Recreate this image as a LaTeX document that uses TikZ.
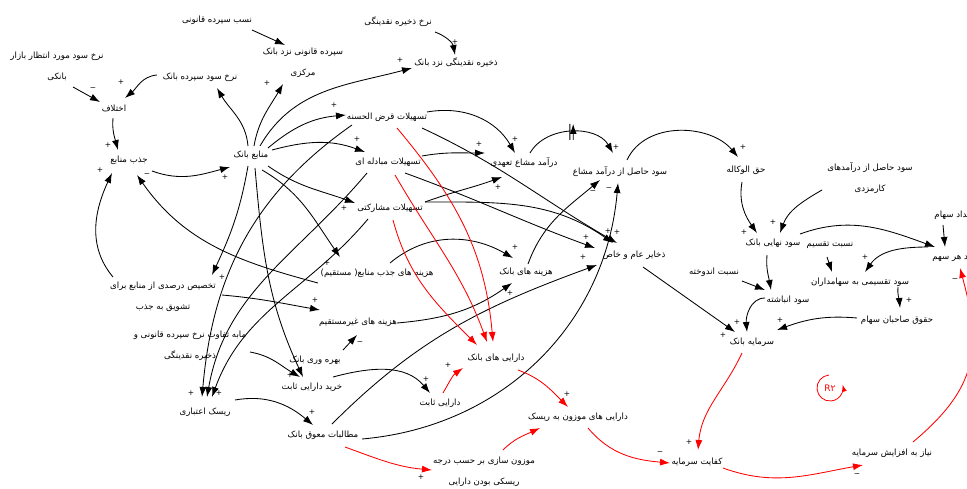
\documentclass[tikz,border=0pt]{standalone}
\usepackage{fontspec}
\usetikzlibrary{arrows.meta,calc,decorations.markings}
\TeXXeTstate=1
\newfontfamily\fafont[Script=Arabic]{DejaVu Sans}
\newfontfamily\sgfont{DejaVu Sans}
\newcommand\fa[1]{\beginR #1\endR}

\begin{document}
\begin{tikzpicture}[x=1pt,y=1pt,
  lbl/.style={font=\fafont\fontsize{8.6}{10}\selectfont, inner sep=1pt, align=center},
  lbltwo/.style={lbl, font=\fafont\fontsize{8.6}{21}\selectfont},
  sgn/.style={font=\sgfont\fontsize{7.5}{7.5}\selectfont, inner sep=0pt},
  cl/.style={-{Latex[length=10pt,width=7pt]}, line width=0.85pt},
  rl/.style={cl, red},
  delay/.style={postaction={decorate}, decoration={markings,
     mark=at position 0.5 with {\draw[line width=0.9pt] (-1.7pt,-8pt)--(-1.7pt,8pt) (1.7pt,-8pt)--(1.7pt,8pt);}}},
]
\useasboundingbox (0,0) rectangle (967,-488);
\fill[white] (0,0) rectangle (967,-488);

% ---- variables ----
\node[lbl] (nasab) at (217,-20) {\fa{نسب سپرده قانونی}};
\node[lbltwo] (sepQ) at (303,-63) {\fa{سپرده قانونی نزد بانک}\\\fa{مرکزی}};
\node[lbl] (nerkhZ) at (398,-22) {\fa{نرخ ذخیره نقدینگی}};
\node[lbl] (zakhNaq) at (456,-63) {\fa{ذخیره نقدینگی نزد بانک}};
\node[lbltwo] (nerkhMored) at (57,-66) {\fa{نرخ سود مورد انتظار بازار}\\\fa{بانکی}};
\node[lbl] (nerkhSep) at (200,-77) {\fa{نرخ سود سپرده بانک}};
\node[lbl] (ekhtelaf) at (114,-108) {\fa{اختلاف}};
\node[lbl] (jazb) at (129,-160) {\fa{جذب منابع}};
\node[lbl] (manabe) at (251,-155) {\fa{منابع بانک}};
\node[lbl] (qarz) at (387,-117) {\fa{تسهیلات قرض الحسنه}};
\node[lbl] (mobadele) at (388,-162) {\fa{تسهیلات مبادله ای}};
\node[lbl] (mosharekati) at (390,-208) {\fa{تسهیلات مشارکتی}};
\node[lbl] (tahodi) at (524,-163) {\fa{درآمد مشاع تعهدی}};
\node[lbl] (soodHasel) at (620,-172) {\fa{سود حاصل از درآمد مشاع}};
\node[lbl] (haqol) at (746,-170) {\fa{حق الوکاله}};
\node[lbltwo] (karmozd) at (870,-178) {\fa{سود حاصل از درآمدهای}\\\fa{کارمزدی}};
\node[lbl] (nahaei) at (773,-243) {\fa{سود نهایی بانک}};
\node[lbl] (taqsimR) at (830,-245) {\fa{نسبت تقسیم}};
\node[lbl] (tedad) at (954,-215) {\fa{تعداد سهام}};
\node[lbl] (harSahm) at (956,-258) {\fa{سود هر سهم}};
\node[lbl] (taqsimi) at (860,-282) {\fa{سود تقسیمی به سهامداران}};
\node[lbl] (hoqooq) at (897,-320) {\fa{حقوق صاحبان سهام}};
\node[lbl] (anbashte) at (788,-300) {\fa{سود انباشته}};
\node[lbl] (andookhte) at (714,-272) {\fa{نسبت اندوخته}};
\node[lbl] (sarmaye) at (752,-342) {\fa{سرمایه بانک}};
\node[lbl] (kefayat) at (697,-462) {\fa{کفایت سرمایه}};
\node[lbl] (niaz) at (892,-453) {\fa{نیاز به افزایش سرمایه}};
\node[lbl] (zakhayer) at (634,-255) {\fa{ذخایر عام و خاص}};
\node[lbl] (hazBank) at (526,-272) {\fa{هزینه های بانک}};
\node[lbl] (darBank) at (496,-358) {\fa{دارایی های بانک}};
\node[lbl] (mowzoon) at (578,-417) {\fa{دارایی های موزون به ریسک}};
\node[lbltwo] (mowzSazi) at (484,-472) {\fa{موزون سازی بر حسب درجه}\\\fa{ریسکی بودن دارایی}};
\node[lbl] (sabet) at (440,-403) {\fa{دارایی ثابت}};
\node[lbl] (kharid) at (312,-387) {\fa{خرید دارایی ثابت}};
\node[lbl] (bahre) at (315,-360) {\fa{بهره وری بانک}};
\node[lbl] (gheir) at (358,-322) {\fa{هزینه های غیرمستقیم}};
\node[lbl] (hazJazb) at (377,-273) {\fa{هزینه های جذب منابع( مستقیم)}};
\node[lbl] (motaleb) at (323,-435) {\fa{مطالبات معوق بانک}};
\node[lbl] (risk) at (205,-412) {\fa{ریسک اعتباری}};
\node[lbltwo] (mabe) at (190,-346) {\fa{مابه تفاوت نرخ سپرده قانونی و}\\\fa{ذخیره نقدینگی}};
\node[lbltwo] (takhsis) at (163,-297) {\fa{تخصیص درصدی از منابع برای}\\\fa{تشویق به جذب}};

% ---- bank resources fan-out ----
\draw[cl] ($(manabe)+(-3,9)$) to[out=95,in=-60] ($(nerkhSep)+(17,-11)$);
\draw[cl] ($(manabe)+(3,9)$) to[out=80,in=-120] ($(sepQ)+(-20,-21)$);
\draw[cl] ($(manabe)+(9,9)$) to[out=60,in=195] ($(zakhNaq)+(-44,-5)$);
\draw[cl] ($(manabe)+(17,7)$) to[out=40,in=185] ($(qarz)+(-41,2)$);
\draw[cl] ($(manabe)+(21,5)$) to[out=15,in=160] ($(mobadele)+(-23,10)$);
\draw[cl] ($(manabe)+(17,-11)$) to[out=-35,in=160] ($(mosharekati)+(-35,5)$);
\draw[cl] ($(manabe)+(11,-15)$) to[out=-30,in=125] ($(hazJazb)+(-37,16)$);
\draw[cl] ($(manabe)+(-3,-11)$) to[out=-100,in=65] ($(takhsis)+(49,22)$);
\draw[cl] ($(manabe)+(4,-13)$) to[out=-85,in=115] ($(kharid)+(-9,10)$);

% ---- credit risk ----
\draw[cl] ($(qarz)+(-35,-8)$) to[out=-145,in=85] ($(risk)+(-3,15)$);
\draw[cl] ($(mobadele)+(-21,-11)$) to[out=-130,in=80] ($(risk)+(2,15)$);
\draw[cl] ($(mosharekati)+(-22,-11)$) to[out=-130,in=70] ($(risk)+(7,15)$);

% ---- left side ----
\draw[cl] ($(nerkhMored)+(16,-21)$) -- ($(ekhtelaf)+(-14,6)$);
\draw[cl] ($(nerkhSep)+(-43,2)$) to[out=185,in=40] ($(ekhtelaf)+(11,10)$);
\draw[cl] ($(ekhtelaf)+(-1,-10)$) to[out=-95,in=105] ($(jazb)+(-11,10)$);
\draw[cl] ($(jazb)+(23,-11)$) to[out=-20,in=195] ($(manabe)+(-21,-12)$);
\draw[cl] ($(takhsis)+(-50,20)$) to[out=130,in=-115] ($(jazb)+(-17,-13)$);
\draw[cl] ($(hazJazb)+(-59,-10)$) to[out=165,in=-55] ($(jazb)+(8,-15)$);
\draw[cl] ($(takhsis)+(59,2)$) to[out=-5,in=170] ($(gheir)+(-38,12)$);
\draw[cl] ($(mabe)+(60,-6)$) to[out=-10,in=150] ($(kharid)+(-12,10)$);
\draw[cl] ($(bahre)+(28,10)$) -- ($(gheir)+(-1,-13)$);
\draw[cl] ($(kharid)+(21,10)$) to[out=15,in=130] ($(sabet)+(-10,10)$);
\draw[cl] ($(risk)+(30,12)$) to[out=10,in=140] ($(motaleb)+(-10,10)$);

% ---- top ----
\draw[cl] ($(nasab)+(35,-10)$) -- ($(sepQ)+(-18,18)$);
\draw[cl] ($(nerkhZ)+(37,-10)$) to[out=-20,in=100] ($(zakhNaq)+(-1,8)$);

% ---- middle ----
\draw[cl] ($(gheir)+(39,-1)$) to[out=5,in=215] ($(hazBank)+(-14,-11)$);
\draw[cl] ($(motaleb)+(9,11)$) to[out=45,in=200] ($(zakhayer)+(-37,-10)$);
\draw[cl] ($(motaleb)+(39,-4)$) to[out=5,in=-95] ($(soodHasel)+(-2,-11)$);
\draw[cl] ($(hazJazb)+(13,10)$) to[out=40,in=150] ($(hazBank)+(-13,14)$);
\draw[cl] ($(hazBank)+(2,8)$) to[out=70,in=220] ($(soodHasel)+(-20,-8)$);
\draw[cl] ($(qarz)+(40,5)$) to[out=10,in=120] ($(tahodi)+(-9,10)$);
\draw[cl] ($(mobadele)+(34,6)$) to[out=10,in=180] ($(tahodi)+(-39,10)$);
\draw[cl] ($(mosharekati)+(35,6)$) to[out=20,in=200] ($(tahodi)+(-22,-14)$);
\draw[cl] ($(qarz)+(35,-11)$) to[out=-25,in=150] ($(zakhayer)+(-17,12)$);
\draw[cl] ($(mobadele)+(17,-11)$) to[out=-20,in=160] ($(zakhayer)+(-39,7)$);
\draw[cl] ($(mosharekati)+(35,6)$) to[out=0,in=145] ($(zakhayer)+(-21,12)$);
\draw[cl,delay] ($(tahodi)+(6,10)$) to[out=60,in=120] ($(soodHasel)+(-7,19)$);
\draw[cl] ($(soodHasel)+(7,12)$) to[out=65,in=130] ($(haqol)+(-8,13)$);

% ---- right side ----
\draw[cl] ($(haqol)+(-4,-12)$) to[out=-100,in=125] ($(nahaei)+(-16,10)$);
\draw[cl] ($(karmozd)+(-48,-12)$) to[out=-150,in=70] ($(nahaei)+(7,10)$);
\draw[cl] ($(nahaei)+(27,9)$) to[out=20,in=160] ($(harSahm)+(-21,11)$);
\draw[cl] ($(tedad)+(-11,-10)$) -- ($(harSahm)+(-11,11)$);
\draw[cl] ($(harSahm)+(-28,11)$) to[out=180,in=55] ($(taqsimi)+(5,10)$);
\draw[cl] ($(taqsimR)+(-3,-12)$) -- ($(taqsimi)+(-28,10)$);
\draw[cl] ($(nahaei)+(-6,-12)$) to[out=-95,in=100] ($(anbashte)+(-17,10)$);
\draw[cl] ($(andookhte)+(28,-9)$) -- ($(anbashte)+(-23,10)$);
\draw[cl] ($(anbashte)+(-23,2)$) to[out=180,in=95] ($(sarmaye)+(-5,10)$);
\draw[cl] ($(taqsimi)+(38,-5)$) to[out=-95,in=95] ($(hoqooq)+(3,12)$);
\draw[cl] ($(hoqooq)+(-40,2)$) to[out=175,in=20] ($(sarmaye)+(25,12)$);
\draw[cl] ($(zakhayer)+(9,-12)$) -- ($(sarmaye)+(-17,10)$);

% ---- capital adequacy loop (red) ----
\draw[rl] ($(sarmaye)+(-10,-11)$) to[out=-115,in=85] ($(kefayat)+(1,12)$);
\draw[rl] ($(mowzoon)+(10,-11)$) to[out=-50,in=175] ($(kefayat)+(-27,-1)$);
\draw[rl] ($(kefayat)+(26,-6)$) to[out=-20,in=190] ($(niaz)+(-29,-12)$);
\draw[rl] ($(niaz)+(21,11)$) to[out=40,in=-75,looseness=1.2] ($(harSahm)+(4,-10)$);
\draw[rl] ($(darBank)+(22,-12)$) to[out=-20,in=135] ($(mowzoon)+(-10,10)$);
\draw[rl] ($(mowzSazi)+(19,22)$) to[out=45,in=205] ($(mowzoon)+(-38,-11)$);
\draw[rl] ($(motaleb)+(22,-12)$) to[out=-20,in=175] ($(mowzSazi)+(-52,2)$);
\draw[rl] ($(qarz)+(10,-11)$) to[out=-50,in=95] ($(darBank)+(-3,16)$);
\draw[rl] ($(mobadele)+(7,-13)$) to[out=-60,in=110] ($(darBank)+(-9,16)$);
\draw[rl] ($(mosharekati)+(3,-12)$) to[out=-75,in=135] ($(darBank)+(-19,13)$);
\draw[rl] ($(sabet)+(3,10)$) to[out=60,in=215] ($(darBank)+(-33,-10)$);

% ---- loop marker ----
\node[font=\sgfont\fontsize{9}{9}\selectfont, text=red, inner sep=0pt] (loopR) at (830,-388) {R۲};
\draw[red, line width=0.8pt, -{Latex[length=7pt,width=5pt]}] ($(loopR.center)+(95:13)$) arc[start angle=95, end angle=375, radius=13];

% ---- polarity signs ----
\foreach \i/\x/\y/\t in {1/93/89/−, 2/121/82/+, 3/108/145/+, 4/100/170/+, 5/147/175/−,
  6/225/177/+, 7/267/83/+, 8/400/60/+, 9/455/42/+, 10/334/105/+, 11/357/139/+,
  12/344/208/+, 13/327/263/+, 14/222/277/+, 15/191/393/+, 16/219/393/+, 17/290/375/+,
  18/315/300/+, 19/360/343/−, 20/426/379/+, 21/448/365/+, 22/312/412/+, 23/421/477/+,
  24/515/139/+, 25/479/144/+, 26/498/187/+, 27/616/147/+, 28/593/192/−, 29/609/189/−,
  30/608/231/+, 31/617/232/+, 32/586/237/+, 33/583/257/+, 34/515/247/+, 35/510/293/+,
  36/743/147/+, 37/744/232/+, 38/773/222/+, 39/865/257/+, 40/909/300/+, 41/737/322/+,
  42/780/320/+, 43/723/335/+, 44/689/442/+, 45/660/453/−, 46/857/475/−, 47/955/280/−,
  48/567/394/+}
  \node[sgn] (s\i) at (\x,-\y) {\t};
\end{tikzpicture}
\end{document}
